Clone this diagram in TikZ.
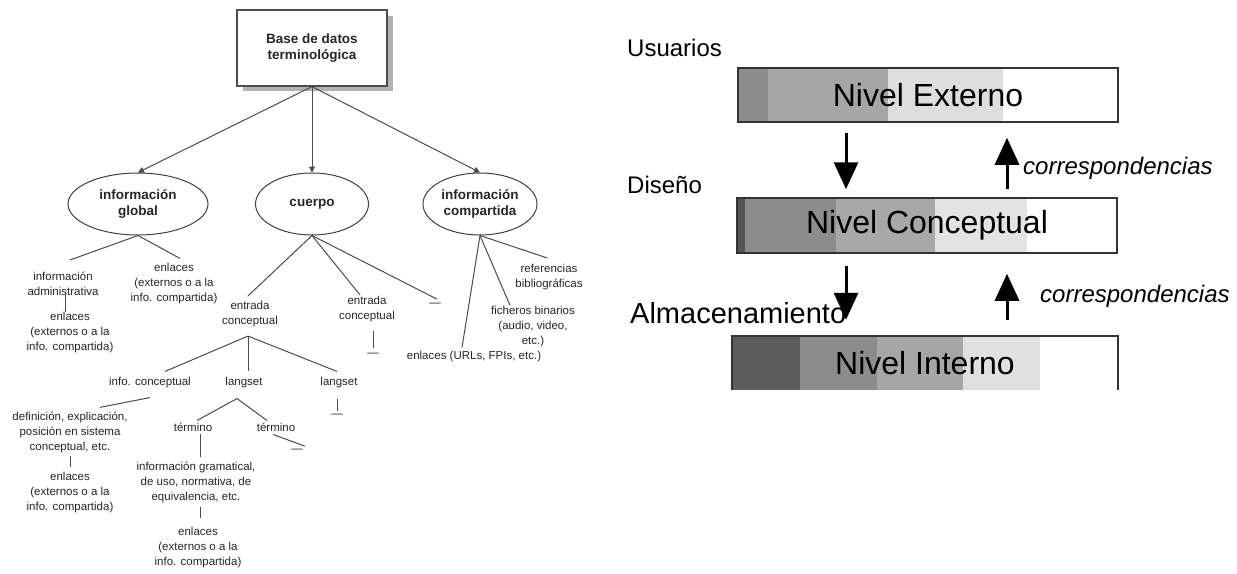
\documentclass[tikz,border=0pt]{standalone}
\usepackage{fontspec}
\setmainfont{Liberation Sans}
\usetikzlibrary{arrows.meta,shapes.geometric}
\begin{document}
\begin{tikzpicture}[x=1pt,y=-1pt,
  txt/.style={font=\fontsize{11.5}{15}\selectfont, align=center, inner sep=1pt, text=black!85},
  ell/.style={ellipse, draw=black!75, line width=1pt, fill=white, font=\fontsize{13.5}{16}\selectfont\bfseries, align=center, inner sep=0pt, text=black!85},
  ln/.style={draw=black!70, line width=1pt},
  tarr/.style={ln, -{Triangle[width=6pt,length=6pt]}},
  big/.style={line width=3pt, -{Triangle[width=24pt,length=27pt]}},
  lvl/.style={font=\fontsize{32}{36}\selectfont, inner sep=0pt, minimum height=54pt},
  lab/.style={font=\fontsize{24}{28}\selectfont, anchor=west, inner sep=0pt},
  corr/.style={font=\fontsize{24}{28}\selectfont\itshape, anchor=west, inner sep=0pt},
]
\useasboundingbox[fill=white] (0,0) rectangle (1237,573);

% ---------------- left tree ----------------
\fill[black!30] (243,16) rectangle (393,91);
\node[draw=black!70, fill=white, line width=1.2pt, minimum width=150pt, minimum height=76pt,
      align=center, font=\fontsize{13.5}{16}\selectfont\bfseries, text=black!85] (top) at (312,48) {Base de datos\\terminológica};

\node[ell, minimum width=140pt, minimum height=62pt] (ig) at (138,204) {información\\global};
\node[ell, minimum width=113pt, minimum height=62pt] (cu) at (312,204) {cuerpo};
\node[ell, minimum width=114pt, minimum height=62pt] (ic) at (480,204) {información\\compartida};

\draw[tarr] (top.south) -- (ig.north);
\draw[tarr] (top.south) -- (cu.north);
\draw[tarr] (top.south) -- (ic.north);

\node[txt] (admin) at (63,284) {información\\administrativa};
\node[txt] (enl1) at (70,333) {enlaces\\(externos o a la\\info. compartida)};
\node[txt] (enl2) at (174,284) {enlaces\\(externos o a la\\info. compartida)};
\node[txt] (ec1) at (250,314) {entrada\\conceptual};
\node[txt] (ec2) at (367,309) {entrada\\conceptual};
\node[txt] (d1) at (435,305) {—};
\node[txt] (d2) at (373,355) {—};
\node[txt] (icon) at (150,383) {info. conceptual};
\node[txt] (ls1) at (244,383) {langset};
\node[txt] (ls2) at (339,383) {langset};
\node[txt] (d3) at (337,416) {—};
\node[txt] (ref) at (549,277) {referencias\\bibliográficas};
\node[txt] (fich) at (533,327) {ficheros binarios\\(audio, video,\\etc.)};
\node[txt] (url) at (474,357) {enlaces (URLs, FPIs, etc.)};
\node[txt] (def) at (70,432) {definición, explicación,\\posición en sistema\\conceptual, etc.};
\node[txt] (enl3) at (70,493) {enlaces\\(externos o a la\\info. compartida)};
\node[txt] (t1) at (193,427) {término};
\node[txt] (t2) at (276,427) {término};
\node[txt] (d4) at (297,451) {—};
\node[txt] (gram) at (196,482) {información gramatical,\\de uso, normativa, de\\equivalencia, etc.};
\node[txt] (enl4) at (198,548) {enlaces\\(externos o a la\\info. compartida)};

\draw[ln] (ig.south) -- ([xshift=7pt,yshift=11pt]admin.north);
\draw[ln] (ig.south) -- ([xshift=6pt,yshift=4pt]enl2.north);
\draw[ln] ([xshift=2pt,yshift=4pt]admin.south) -- ([xshift=-5pt,yshift=-1pt]enl1.north);
\draw[ln] (cu.south) -- ([xshift=-2pt,yshift=4pt]ec1.north);
\draw[ln] (cu.south) -- ([xshift=-7pt]ec2.north);
\draw[ln] (cu.south) -- ([xshift=2pt,yshift=3pt]d1.north);
\draw[ln] ([xshift=-2pt,yshift=-8pt]ec1.south) -- ([xshift=15pt,yshift=5pt]icon.north);
\draw[ln] ([xshift=-2pt,yshift=-8pt]ec1.south) -- ([xshift=4pt,yshift=5pt]ls1.north);
\draw[ln] ([xshift=-2pt,yshift=-8pt]ec1.south) -- ([xshift=-2pt,yshift=5pt]ls2.north);
\draw[ln] ([xshift=-2pt,yshift=-9pt]ls2.south) -- ([yshift=2pt]d3.north);
\draw[ln] ([xshift=6pt,yshift=-8pt]ec2.south) -- ([yshift=4pt]d2.north);
\draw[ln] (ic.south) -- ([xshift=-2pt,yshift=5pt]ref.north);
\draw[ln] (ic.south) -- ([xshift=-23pt]fich.north);
\draw[ln] (ic.south) -- ([xshift=-12pt,yshift=3pt]url.north);
\draw[ln] ([yshift=-8pt]icon.south) -- ([xshift=30pt,yshift=3pt]def.north);
\draw[ln] ([yshift=-2pt]def.south) -- ([yshift=4pt]enl3.north);
\draw[ln] ([xshift=-7pt,yshift=-9pt]ls1.south) -- ([xshift=4pt,yshift=1pt]t1.north);
\draw[ln] ([xshift=-7pt,yshift=-9pt]ls1.south) -- ([xshift=-9pt,yshift=1pt]t2.north);
\draw[ln] ([xshift=7pt,yshift=-2pt]t1.south) -- ([xshift=4pt,yshift=3pt]gram.north);
\draw[ln] ([xshift=-3pt,yshift=-2pt]t2.south) -- ([xshift=8pt,yshift=2pt]d4.north);
\draw[ln] ([xshift=4pt,yshift=-3pt]gram.south) -- ([xshift=2pt,yshift=8pt]enl4.north);

% ---------------- right levels ----------------
% Nivel Externo
\fill[black!45] (738,68) rectangle (768,122);
\fill[black!35] (768,68) rectangle (888,122);
\fill[black!13] (888,68) rectangle (1003,122);
\node[lvl, draw=black!80, line width=1.5pt, minimum width=380pt] (ext) at (928,95) {Nivel Externo};
% Nivel Conceptual
\fill[black!67] (737,198) rectangle (745,253);
\fill[black!45] (745,198) rectangle (836,253);
\fill[black!34] (836,198) rectangle (935,253);
\fill[black!11] (935,198) rectangle (1027,253);
\node[lvl, draw=black!80, line width=1.5pt, minimum width=380pt, minimum height=55pt] (con) at (927,225.5) {Nivel Conceptual};
% Nivel Interno (cut at bottom)
\fill[black!64] (732,336) rectangle (800,390);
\fill[black!45] (800,336) rectangle (877,390);
\fill[black!35] (877,336) rectangle (963,390);
\fill[black!12] (963,336) rectangle (1040,390);
\node[lvl, minimum width=386pt] (int) at (925,363) {Nivel Interno};
\draw[black!80, line width=1.5pt] (int.south west) -- (int.north west) -- (int.north east) -- (int.south east);

\node[lab] (usu) at (627,48) {Usuarios};
\node[lab] (dis) at (627,185) {Diseño};
\node[lab, font=\fontsize{29}{32}\selectfont] (alm) at (630,313) {Almacenamiento};
\node[corr] (c1) at (1023,168) {correspondencias};
\node[corr] (c2) at (1040,296) {correspondencias};

\draw[big] ([xshift=-82pt,yshift=-10pt]ext.south) -- ([xshift=-81pt,yshift=8pt]con.north);
\draw[big] ([xshift=80pt,yshift=8pt]con.north) -- ([xshift=79pt,yshift=-15pt]ext.south);
\draw[big] ([xshift=-81pt,yshift=-12pt]con.south) -- ([xshift=-79pt,yshift=16pt]int.north);
\draw[big] ([xshift=82pt,yshift=16pt]int.north) -- ([xshift=80pt,yshift=-20pt]con.south);
\end{tikzpicture}
\end{document}
